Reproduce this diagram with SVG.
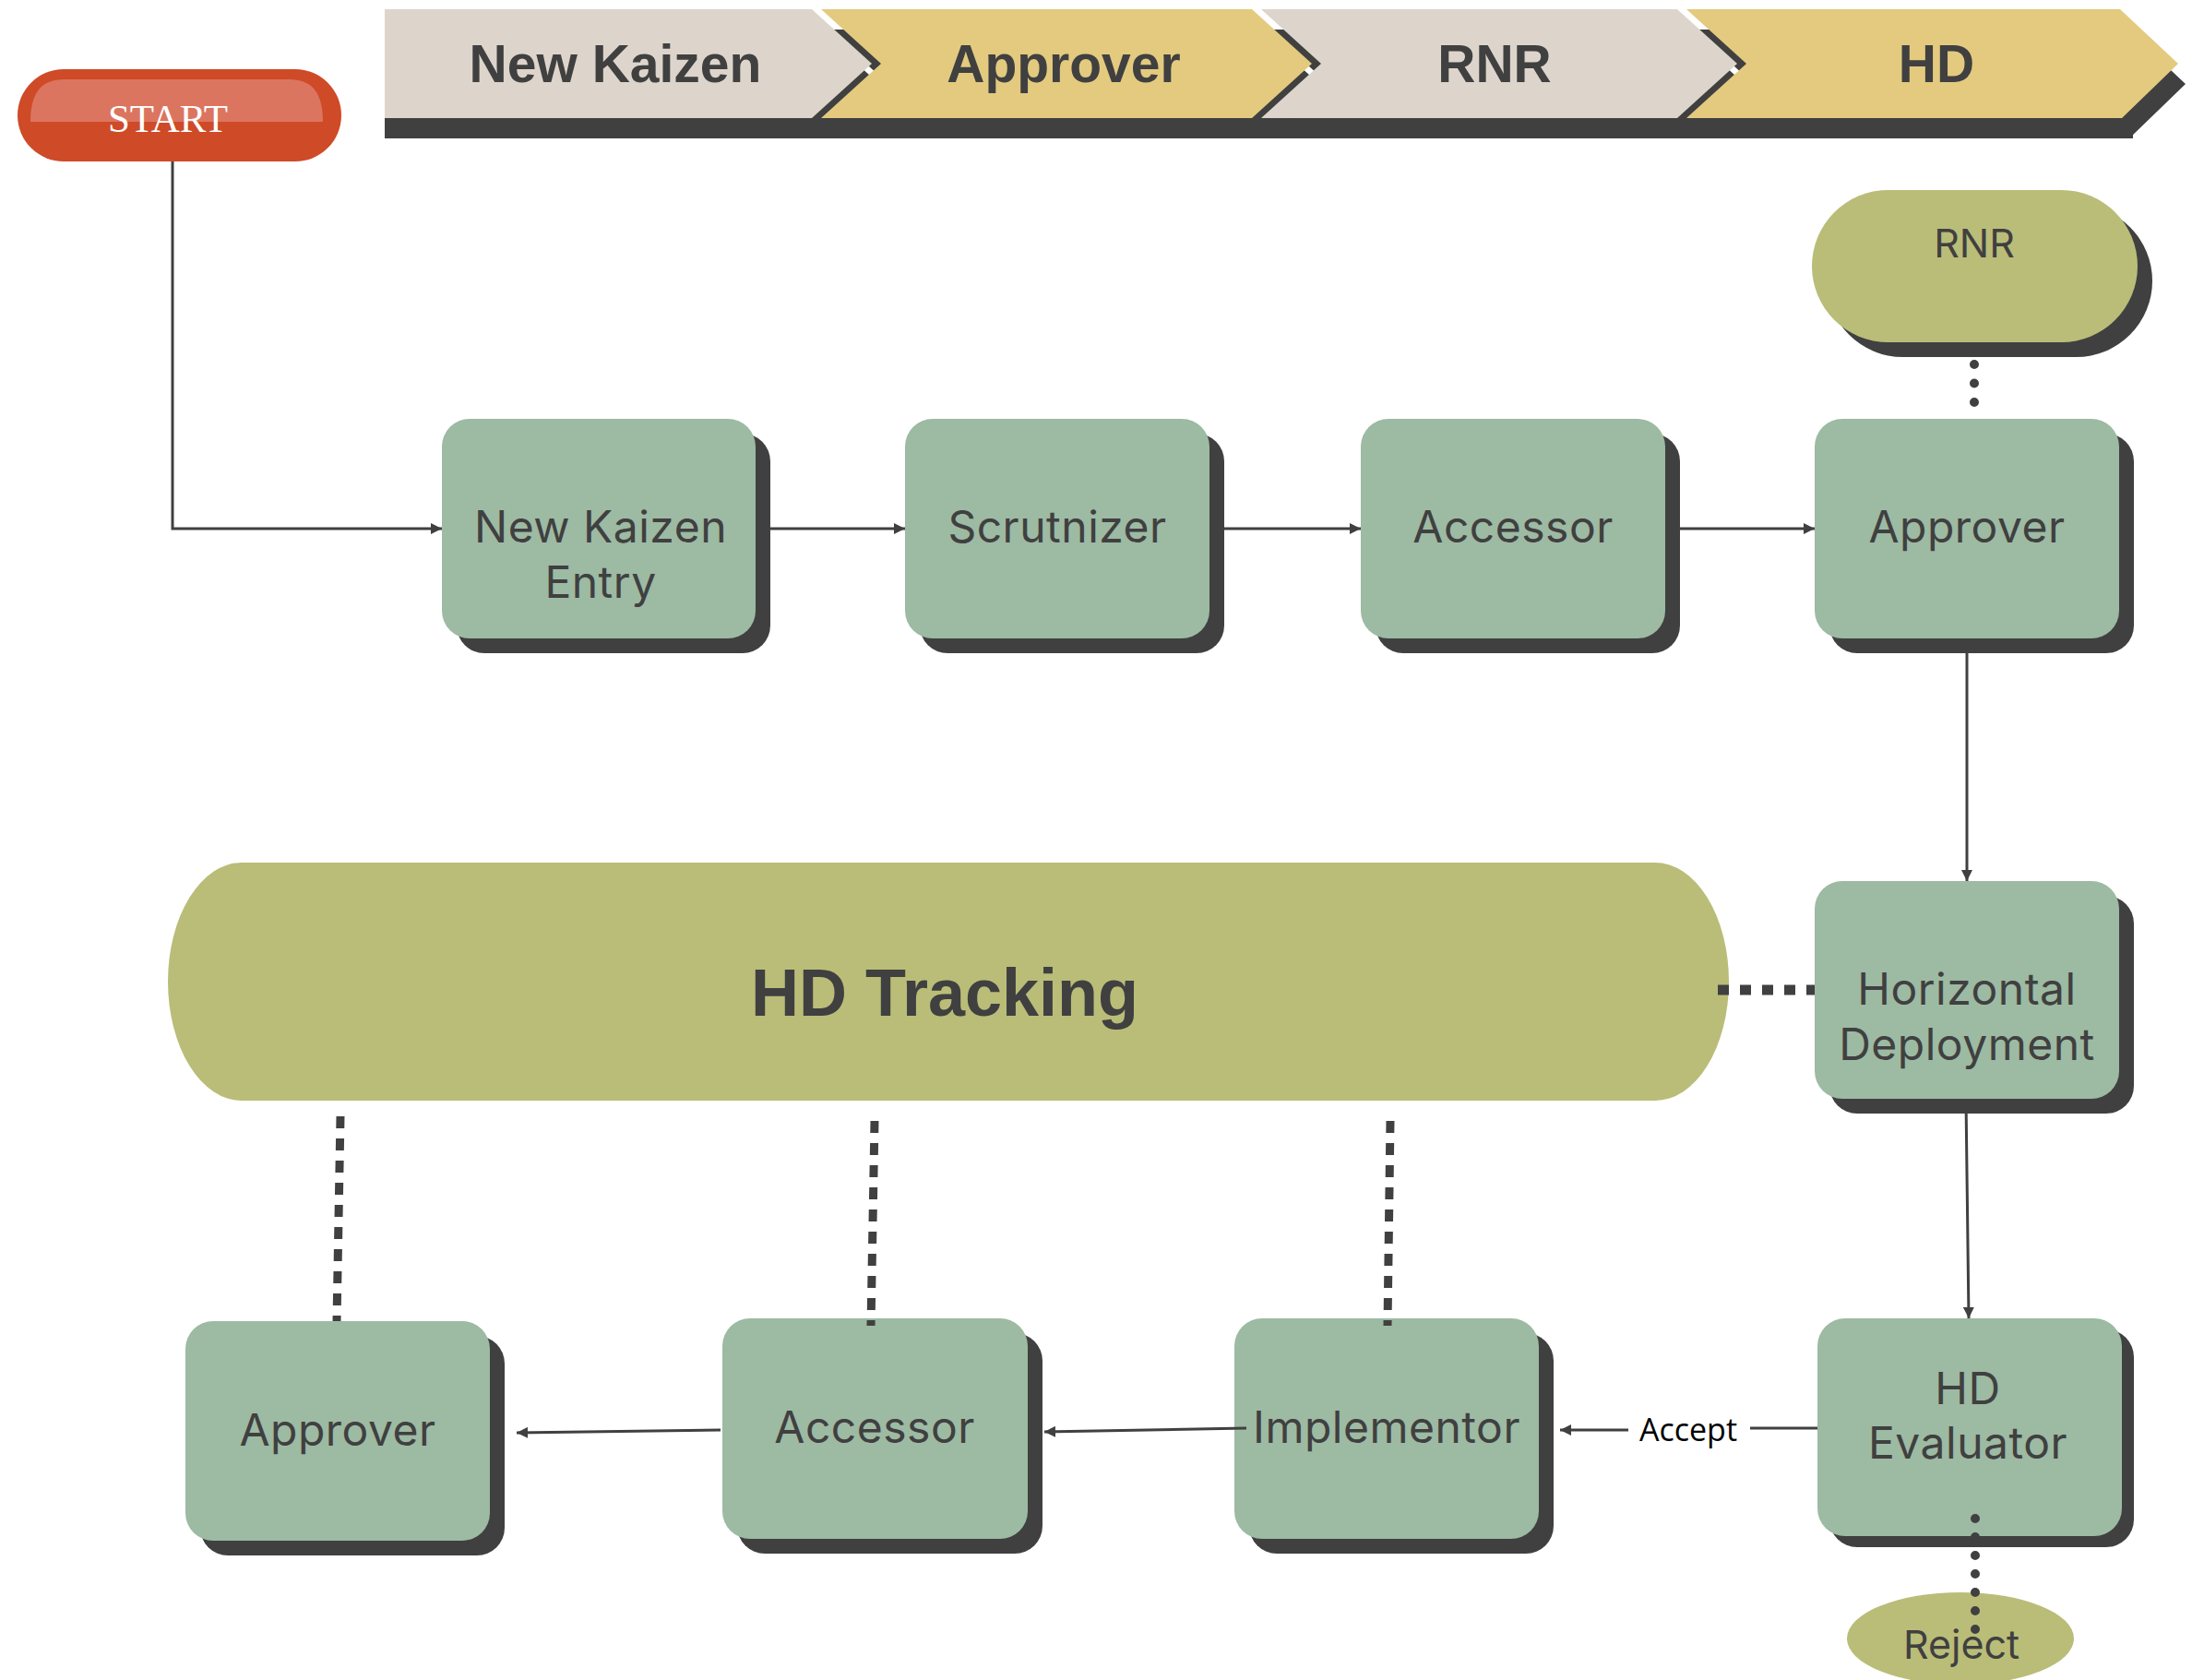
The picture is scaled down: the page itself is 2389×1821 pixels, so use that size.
<svg xmlns="http://www.w3.org/2000/svg" width="2389" height="1821" viewBox="0 0 2389 1821">
<defs>
<style>
.hdr{font-family:"Liberation Sans",Arial,sans-serif;font-weight:bold;font-size:57px;fill:#404040;text-anchor:middle}
.lbl{font-family:Inter,"Liberation Sans",sans-serif;font-size:48px;fill:#404040;text-anchor:middle;letter-spacing:0.5px}
.sm{font-family:Inter,"Liberation Sans",sans-serif;font-size:43px;fill:#404040;text-anchor:middle}
.box{fill:#9dbaa3}
.sh{fill:#404040}
.olive{fill:#babd78}
.conn{stroke:#404040;stroke-width:3;fill:none}
.beige{fill:#ddd5cb}
.yel{fill:#e3ca7f}
</style>
<marker id="ah" viewBox="0 0 10 10" refX="10" refY="5" markerWidth="12" markerHeight="12" markerUnits="userSpaceOnUse" orient="auto">
<path d="M0,0 L10,5 L0,10 z" fill="#404040"/>
</marker>
</defs>
<rect width="2389" height="1821" fill="#ffffff"/>

<g id="header">
<rect x="417" y="128" width="1895" height="22" class="sh"/>
<g transform="translate(8,22)" class="sh">
<polygon points="417,10 880,10 945,69 880,128 417,128"/>
<polygon points="890,10 1357,10 1422,69 1357,128 890,128 955,69"/>
<polygon points="1367,10 1818,10 1883,69 1818,128 1367,128 1432,69"/>
<polygon points="1828,10 2298,10 2361,69 2300,128 1828,128 1893,69"/>
</g>
<polygon points="417,10 880,10 945,69 880,128 417,128" class="beige"/>
<polygon points="890,10 1357,10 1422,69 1357,128 890,128 955,69" class="yel"/>
<polygon points="1367,10 1818,10 1883,69 1818,128 1367,128 1432,69" class="beige"/>
<polygon points="1828,10 2298,10 2361,69 2300,128 1828,128 1893,69" class="yel"/>
<text x="667" y="89" class="hdr">New Kaizen</text>
<text x="1153" y="89" class="hdr">Approver</text>
<text x="1620" y="89" class="hdr">RNR</text>
<text x="2099" y="89" class="hdr">HD</text>
</g>

<g id="start">
<rect x="19" y="75" width="351" height="100" rx="50" fill="#cf4a27"/>
<path d="M33,132 C33,100 45,86 70,86 L313,86 C338,86 350,100 350,132 Z" fill="#db7560"/>
<text x="182" y="143" font-family="'Liberation Serif','Times New Roman',serif" font-size="43" fill="#ffffff" text-anchor="middle">START</text>
</g>

<g id="n-newkaizen">
<rect x="495" y="470" width="340" height="238" rx="30" class="sh"/>
<rect x="479" y="454" width="340" height="238" rx="30" class="box"/>
<text x="651" y="588" class="lbl">New Kaizen</text>
<text x="651" y="648" class="lbl">Entry</text>
</g>
<g id="n-scrutnizer">
<rect x="997" y="470" width="330" height="238" rx="30" class="sh"/>
<rect x="981" y="454" width="330" height="238" rx="30" class="box"/>
<text x="1146" y="588" class="lbl">Scrutnizer</text>
</g>
<g id="n-accessor1">
<rect x="1491" y="470" width="330" height="238" rx="30" class="sh"/>
<rect x="1475" y="454" width="330" height="238" rx="30" class="box"/>
<text x="1640" y="588" class="lbl">Accessor</text>
</g>
<g id="n-approver1">
<rect x="1983" y="470" width="330" height="238" rx="30" class="sh"/>
<rect x="1967" y="454" width="330" height="238" rx="30" class="box"/>
<text x="2132" y="588" class="lbl">Approver</text>
</g>
<g id="n-rnr">
<rect x="1980" y="222" width="353" height="165" rx="82.5" class="sh"/>
<rect x="1964" y="206" width="353" height="165" rx="82.5" class="olive"/>
<text x="2140" y="279" class="sm">RNR</text>
</g>
<g id="n-hdtracking">
<rect x="182" y="935" width="1692" height="258" rx="80" ry="129" class="olive"/>
<text x="1024" y="1101" font-family="'Liberation Sans',Arial,sans-serif" font-weight="bold" font-size="72" fill="#404040" text-anchor="middle">HD Tracking</text>
</g>
<g id="n-horizontal">
<rect x="1983" y="971" width="330" height="236" rx="30" class="sh"/>
<rect x="1967" y="955" width="330" height="236" rx="30" class="box"/>
<text x="2132" y="1089" class="lbl">Horizontal</text>
<text x="2132" y="1149" class="lbl">Deployment</text>
</g>
<g id="n-hdevaluator">
<rect x="1983" y="1441" width="330" height="236" rx="30" class="sh"/>
<rect x="1970" y="1429" width="330" height="236" rx="30" class="box"/>
<text x="2133" y="1522" class="lbl">HD</text>
<text x="2133" y="1581" class="lbl">Evaluator</text>
</g>
<g id="n-implementor">
<rect x="1354" y="1445" width="330" height="239" rx="30" class="sh"/>
<rect x="1338" y="1429" width="330" height="239" rx="30" class="box"/>
<text x="1503" y="1564" class="lbl">Implementor</text>
</g>
<g id="n-accessor2">
<rect x="799" y="1445" width="331" height="239" rx="30" class="sh"/>
<rect x="783" y="1429" width="331" height="239" rx="30" class="box"/>
<text x="948" y="1564" class="lbl">Accessor</text>
</g>
<g id="n-approver2">
<rect x="217" y="1448" width="330" height="238" rx="30" class="sh"/>
<rect x="201" y="1432" width="330" height="238" rx="30" class="box"/>
<text x="366" y="1567" class="lbl">Approver</text>
</g>
<g id="n-reject">
<ellipse cx="2125" cy="1776" rx="123" ry="50" class="olive"/>
<text x="2126" y="1798" class="sm">Reject</text>
</g>

<g id="connectors">
<polyline points="187,175 187,573 479,573" class="conn" marker-end="url(#ah)"/>
<line x1="819" y1="573" x2="981" y2="573" class="conn" marker-end="url(#ah)"/>
<line x1="1311" y1="573" x2="1475" y2="573" class="conn" marker-end="url(#ah)"/>
<line x1="1805" y1="573" x2="1967" y2="573" class="conn" marker-end="url(#ah)"/>
<line x1="2132" y1="692" x2="2132" y2="955" class="conn" marker-end="url(#ah)"/>
<line x1="2131" y1="1191" x2="2134" y2="1429" class="conn" marker-end="url(#ah)"/>
<line x1="1970" y1="1548" x2="1897" y2="1548" class="conn"/>
<line x1="1765" y1="1550" x2="1691" y2="1550" class="conn" marker-end="url(#ah)"/>
<text x="1830" y="1562" font-family="'Open Sans','Noto Sans',sans-serif" font-size="34" fill="#000000" text-anchor="middle">Accept</text>
<line x1="1351" y1="1548" x2="1132" y2="1552" class="conn" marker-end="url(#ah)"/>
<line x1="781" y1="1550" x2="560" y2="1553" class="conn" marker-end="url(#ah)"/>
<line x1="2140" y1="395" x2="2140" y2="437" stroke="#404040" stroke-width="10" stroke-linecap="round" stroke-dasharray="0 20.5"/>
<line x1="1862" y1="1073" x2="1967" y2="1073" stroke="#404040" stroke-width="11" stroke-dasharray="12 12"/>
<line x1="369" y1="1210" x2="365" y2="1432" stroke="#404040" stroke-width="9" stroke-dasharray="13 11"/>
<line x1="948" y1="1215" x2="944" y2="1437" stroke="#404040" stroke-width="9" stroke-dasharray="13 11"/>
<line x1="1507" y1="1215" x2="1504" y2="1437" stroke="#404040" stroke-width="9" stroke-dasharray="13 11"/>
<line x1="2141" y1="1646" x2="2141" y2="1786" stroke="#404040" stroke-width="10" stroke-linecap="round" stroke-dasharray="0 20"/>
</g>
</svg>
